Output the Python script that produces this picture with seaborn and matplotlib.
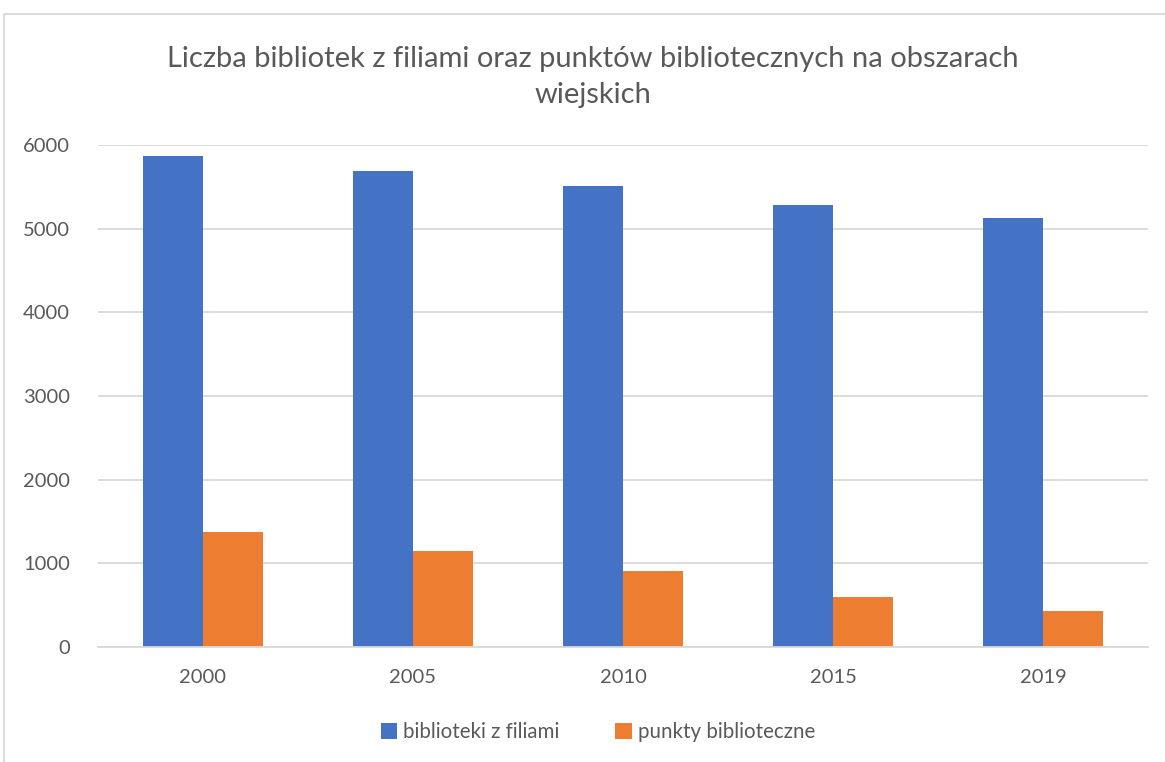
import matplotlib
matplotlib.use("Agg")
import matplotlib.pyplot as plt
import seaborn as sns
import pandas as pd
from matplotlib.patches import Rectangle

years = ["2000", "2005", "2010", "2015", "2019"]
biblioteki = [5870, 5690, 5508, 5284, 5130]
punkty = [1378, 1150, 908, 600, 427]
series_names = ["biblioteki z filiami", "punkty biblioteczne"]
title = "Liczba bibliotek z filiami oraz punktów bibliotecznych na obszarach\nwiejskich"

df = pd.DataFrame({
    "rok": years * 2,
    "wartosc": biblioteki + punkty,
    "seria": [series_names[0]] * len(years) + [series_names[1]] * len(years),
})

sns.set_theme(style="white")
plt.rcParams["font.family"] = ["Lato", "DejaVu Sans"]

text_color = "#595959"
grid_color = "#d9d9d9"

fig = plt.figure(figsize=(11.65, 7.62), dpi=100)
ax = fig.add_axes([98 / 1165, 1 - 647 / 762, (1148 - 98) / 1165, (647 - 145) / 762])

sns.barplot(data=df, x="rok", y="wartosc", hue="seria",
            palette=["#4472C4", "#ED7D31"], width=0.57, saturation=1,
            linewidth=0, ax=ax, legend=True)

ax.set_xlim(-0.5, len(years) - 0.5)
ax.set_ylim(0, 6000)
ax.set_yticks(range(0, 6001, 1000))
ax.yaxis.grid(True, color=grid_color, linewidth=1.3)
ax.set_axisbelow(True)
for side in ["left", "right", "top"]:
    ax.spines[side].set_visible(False)
ax.spines["bottom"].set_color(grid_color)
ax.spines["bottom"].set_linewidth(1.3)
ax.tick_params(axis="both", length=0, labelsize=14.5, colors=text_color)
ax.tick_params(axis="y", pad=20)
ax.tick_params(axis="x", pad=16)
ax.set_xlabel("")
ax.set_ylabel("")

handles, labels = ax.get_legend_handles_labels()
ax.legend_.remove()
fig.legend(handles, labels, loc="center", bbox_to_anchor=(598 / 1165, 1 - 732 / 762),
           ncol=2, frameon=False, fontsize=14.8, labelcolor=text_color,
           handlelength=0.8, handleheight=0.8, handletextpad=0.3, columnspacing=2.7)

fig.text(593 / 1165, 1 - 77 / 762, title, ha="center", va="center",
         fontsize=21, color=text_color, linespacing=1.5)

# outer chart frame
fig.patches.append(Rectangle((4 / 1165, -0.01), 1.1, 1 - 4 / 762 - 10 / 762 + 0.01,
                             transform=fig.transFigure, fill=False,
                             edgecolor=grid_color, linewidth=1.3))

fig.savefig("out.png", dpi=100, facecolor="white")
